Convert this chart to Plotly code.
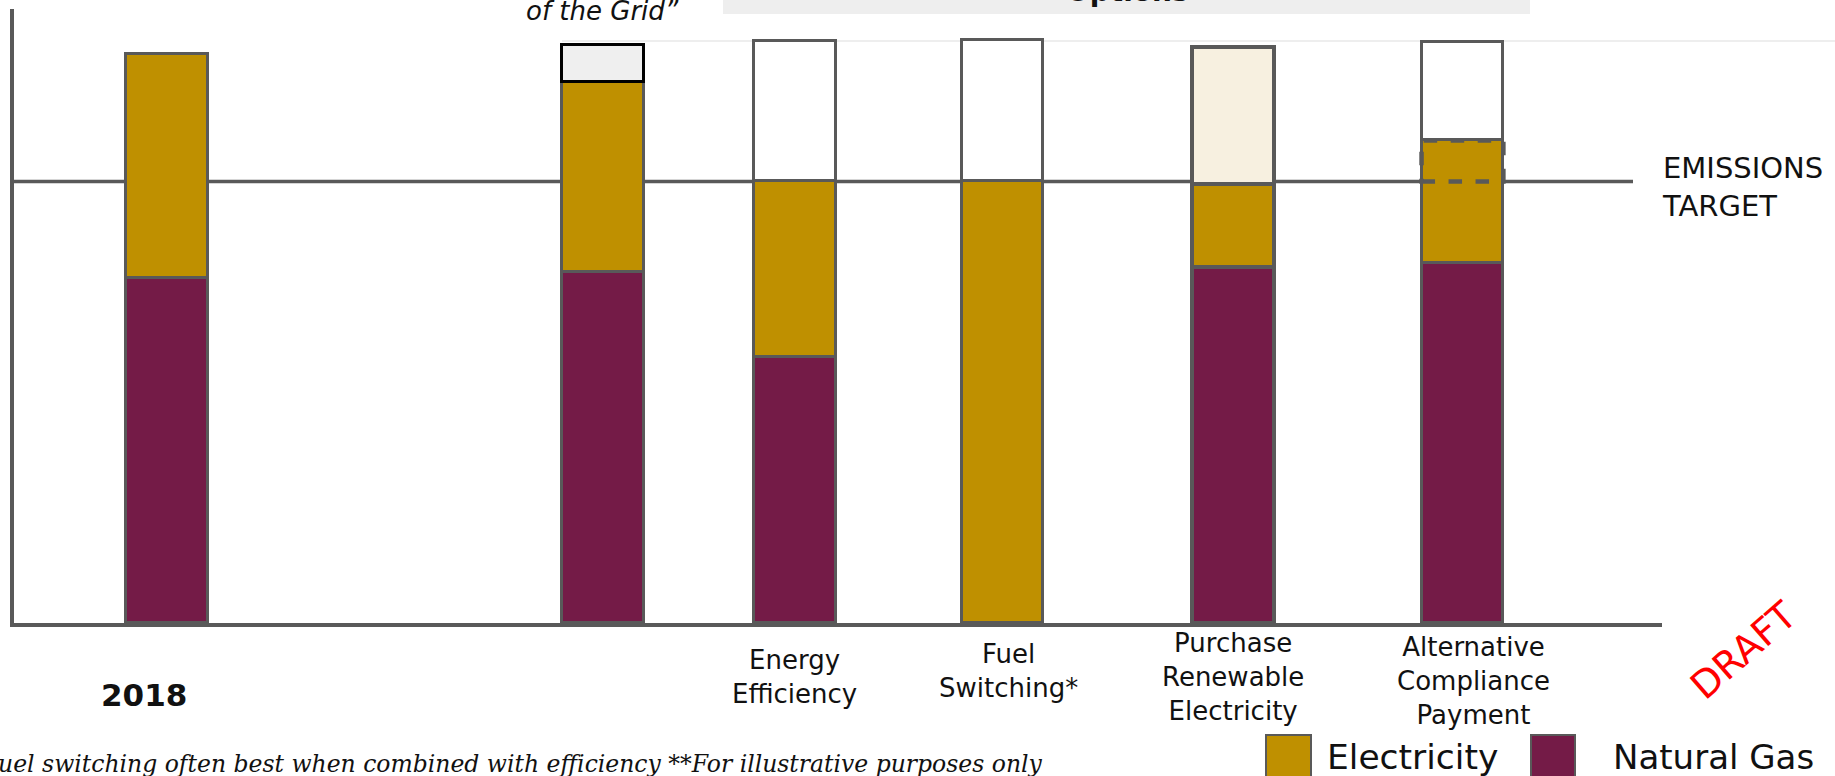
import plotly.graph_objects as go

# ---------------- data ----------------
categories = ["2018", "Greening of the Grid", "Energy Efficiency", "Fuel Switching*",
              "Purchase Renewable Electricity", "Alternative Compliance Payment"]
natural_gas = [60.7, 61.7, 46.7, 0.0, 62.6, 63.2]
electricity = [39.3, 33.4, 30.9, 77.6, 14.6, 21.6]
reduction = [0.0, 6.5, 24.7, 24.9, 24.0, 17.3]
emissions_target = 77.6
tick_labels = ["<b>2018</b>", "", "Energy<br>Efficiency", "Fuel<br>Switching*",
               "Purchase<br>Renewable<br>Electricity", "Alternative<br>Compliance<br>Payment"]
legend_names = ["Electricity", "Natural Gas"]

# ---------------- layout / style ----------------
W, H = 1835, 776
L, R, T, B = 14, 173, 9, 153
PW, PH = W - L - R, H - T - B
slots = [0.0, 2.027, 2.921, 3.888, 4.962, 6.03]
bar_width = 0.381
x_range = [-0.714, 6.959]
y_range = [0, 107.9]

GOLD = "#BF9000"
MAROON = "#741B47"
GREY = "#595959"
FONT = "DejaVu Sans"

def px(xp):
    return (xp - L) / PW

def py(yp):
    return (H - B - yp) / PH

line_w = [3, 3, 3, 3, 4.5, 3]
top_fill = ["rgba(0,0,0,0)", "#EFEFEF", "white", "white", "#F7F0E0", "white"]
top_line_c = ["rgba(0,0,0,0)", "#000000", GREY, GREY, GREY, GREY]
top_line_w = [0, 3.5, 3, 3, 4.5, 3]

fig = go.Figure()
fig.add_trace(go.Bar(x=slots, y=natural_gas, width=bar_width, name=legend_names[1],
                     marker=dict(color=MAROON, line=dict(color=GREY, width=line_w)),
                     hoverinfo="skip", showlegend=False))
fig.add_trace(go.Bar(x=slots, y=electricity, width=bar_width, name=legend_names[0],
                     marker=dict(color=GOLD, line=dict(color=GREY, width=line_w)),
                     hoverinfo="skip", showlegend=False))
fig.add_trace(go.Bar(x=slots, y=reduction, width=bar_width, name="reduction",
                     marker=dict(color=top_fill, line=dict(color=top_line_c, width=top_line_w)),
                     hoverinfo="skip", showlegend=False))

shapes = []
# emissions target line
shapes.append(dict(type="line", xref="paper", yref="y", x0=0, x1=px(1633),
                   y0=emissions_target, y1=emissions_target,
                   line=dict(color=GREY, width=3.5), layer="below"))
# dashed alternative compliance payment box
i = 5
acp_top = natural_gas[i] + electricity[i]
shapes.append(dict(type="rect", xref="x", yref="y",
                   x0=slots[i] - bar_width / 2, x1=slots[i] + bar_width / 2,
                   y0=emissions_target, y1=acp_top,
                   line=dict(color=GREY, width=4.5, dash="dash")))
# faint top line
shapes.append(dict(type="line", xref="paper", yref="paper", x0=px(562), x1=px(1840),
                   y0=py(41), y1=py(41), line=dict(color="#EEEEEE", width=2), layer="below"))
# grey header box (cut off at the top)
shapes.append(dict(type="rect", xref="paper", yref="paper", x0=px(723), x1=px(1530),
                   y0=py(14), y1=py(-20), line=dict(width=0), fillcolor="#EEEEEE"))
# legend squares
shapes.append(dict(type="rect", xref="paper", yref="paper", x0=px(1266), x1=px(1311),
                   y0=py(735), y1=py(782), fillcolor=GOLD, line=dict(color=GREY, width=2)))
shapes.append(dict(type="rect", xref="paper", yref="paper", x0=px(1531), x1=px(1575),
                   y0=py(735), y1=py(782), fillcolor=MAROON, line=dict(color=GREY, width=2)))

annotations = []
label_y = [695, 0, 677, 671, 677, 681]
label_shift = [-23, 0, 0, 6, 0, 11]
for k, lab in enumerate(tick_labels):
    if not lab:
        continue
    size = 31 if k == 0 else 26
    annotations.append(dict(x=slots[k], xref="x", y=py(label_y[k]), yref="paper",
                            xshift=label_shift[k], text=lab, showarrow=False,
                            xanchor="center", yanchor="middle", align="center",
                            font=dict(family=FONT, size=size, color="#111111")))
annotations.append(dict(x=px(1660), y=py(187), xref="paper", yref="paper",
                        text="EMISSIONS<br>TARGET", showarrow=False, xanchor="left",
                        yanchor="middle", align="left",
                        font=dict(family=FONT, size=29, color="#111111")))
annotations.append(dict(x=px(1045), y=py(764), xref="paper", yref="paper",
                        text="<i>*Fuel switching often best when combined with efficiency **For illustrative purposes only</i>",
                        showarrow=False, xanchor="right", yanchor="middle",
                        font=dict(family="DejaVu Serif", size=23.5, color="#111111")))
annotations.append(dict(x=px(602), y=py(11), xref="paper", yref="paper",
                        text="<i>of the Grid”</i>", showarrow=False, xanchor="center",
                        yanchor="middle", font=dict(family=FONT, size=26, color="#111111")))
annotations.append(dict(x=px(1127), y=py(-8), xref="paper", yref="paper",
                        text="<b>Options</b>", showarrow=False, xanchor="center",
                        yanchor="middle", font=dict(family=FONT, size=28, color="#111111")))
annotations.append(dict(x=px(1325), y=py(757), xref="paper", yref="paper",
                        text=legend_names[0], showarrow=False, xanchor="left", yanchor="middle",
                        font=dict(family=FONT, size=34.5, color="#111111")))
annotations.append(dict(x=px(1611), y=py(757), xref="paper", yref="paper",
                        text=legend_names[1], showarrow=False, xanchor="left", yanchor="middle",
                        font=dict(family=FONT, size=34, color="#111111")))
annotations.append(dict(x=px(1744), y=py(650), xref="paper", yref="paper",
                        text="DRAFT", showarrow=False, xanchor="center", yanchor="middle",
                        textangle=-41, font=dict(family=FONT, size=38, color="#FF0000")))

fig.update_layout(
    width=W, height=H,
    margin=dict(l=L, r=R, t=T, b=B, pad=0),
    barmode="stack",
    bargap=0,
    paper_bgcolor="white", plot_bgcolor="white",
    showlegend=False,
    shapes=shapes,
    annotations=annotations,
    xaxis=dict(range=x_range, showgrid=False, zeroline=False, showticklabels=False,
               ticks="", showline=True, linecolor=GREY, linewidth=3.5, fixedrange=True),
    yaxis=dict(range=y_range, showgrid=False, zeroline=False, showticklabels=False,
               ticks="", showline=True, linecolor=GREY, linewidth=3.5, fixedrange=True),
)

fig.write_html("out.html", config={"displayModeBar": False},
               post_script="document.body.style.margin='0';document.body.style.overflow='hidden';")
